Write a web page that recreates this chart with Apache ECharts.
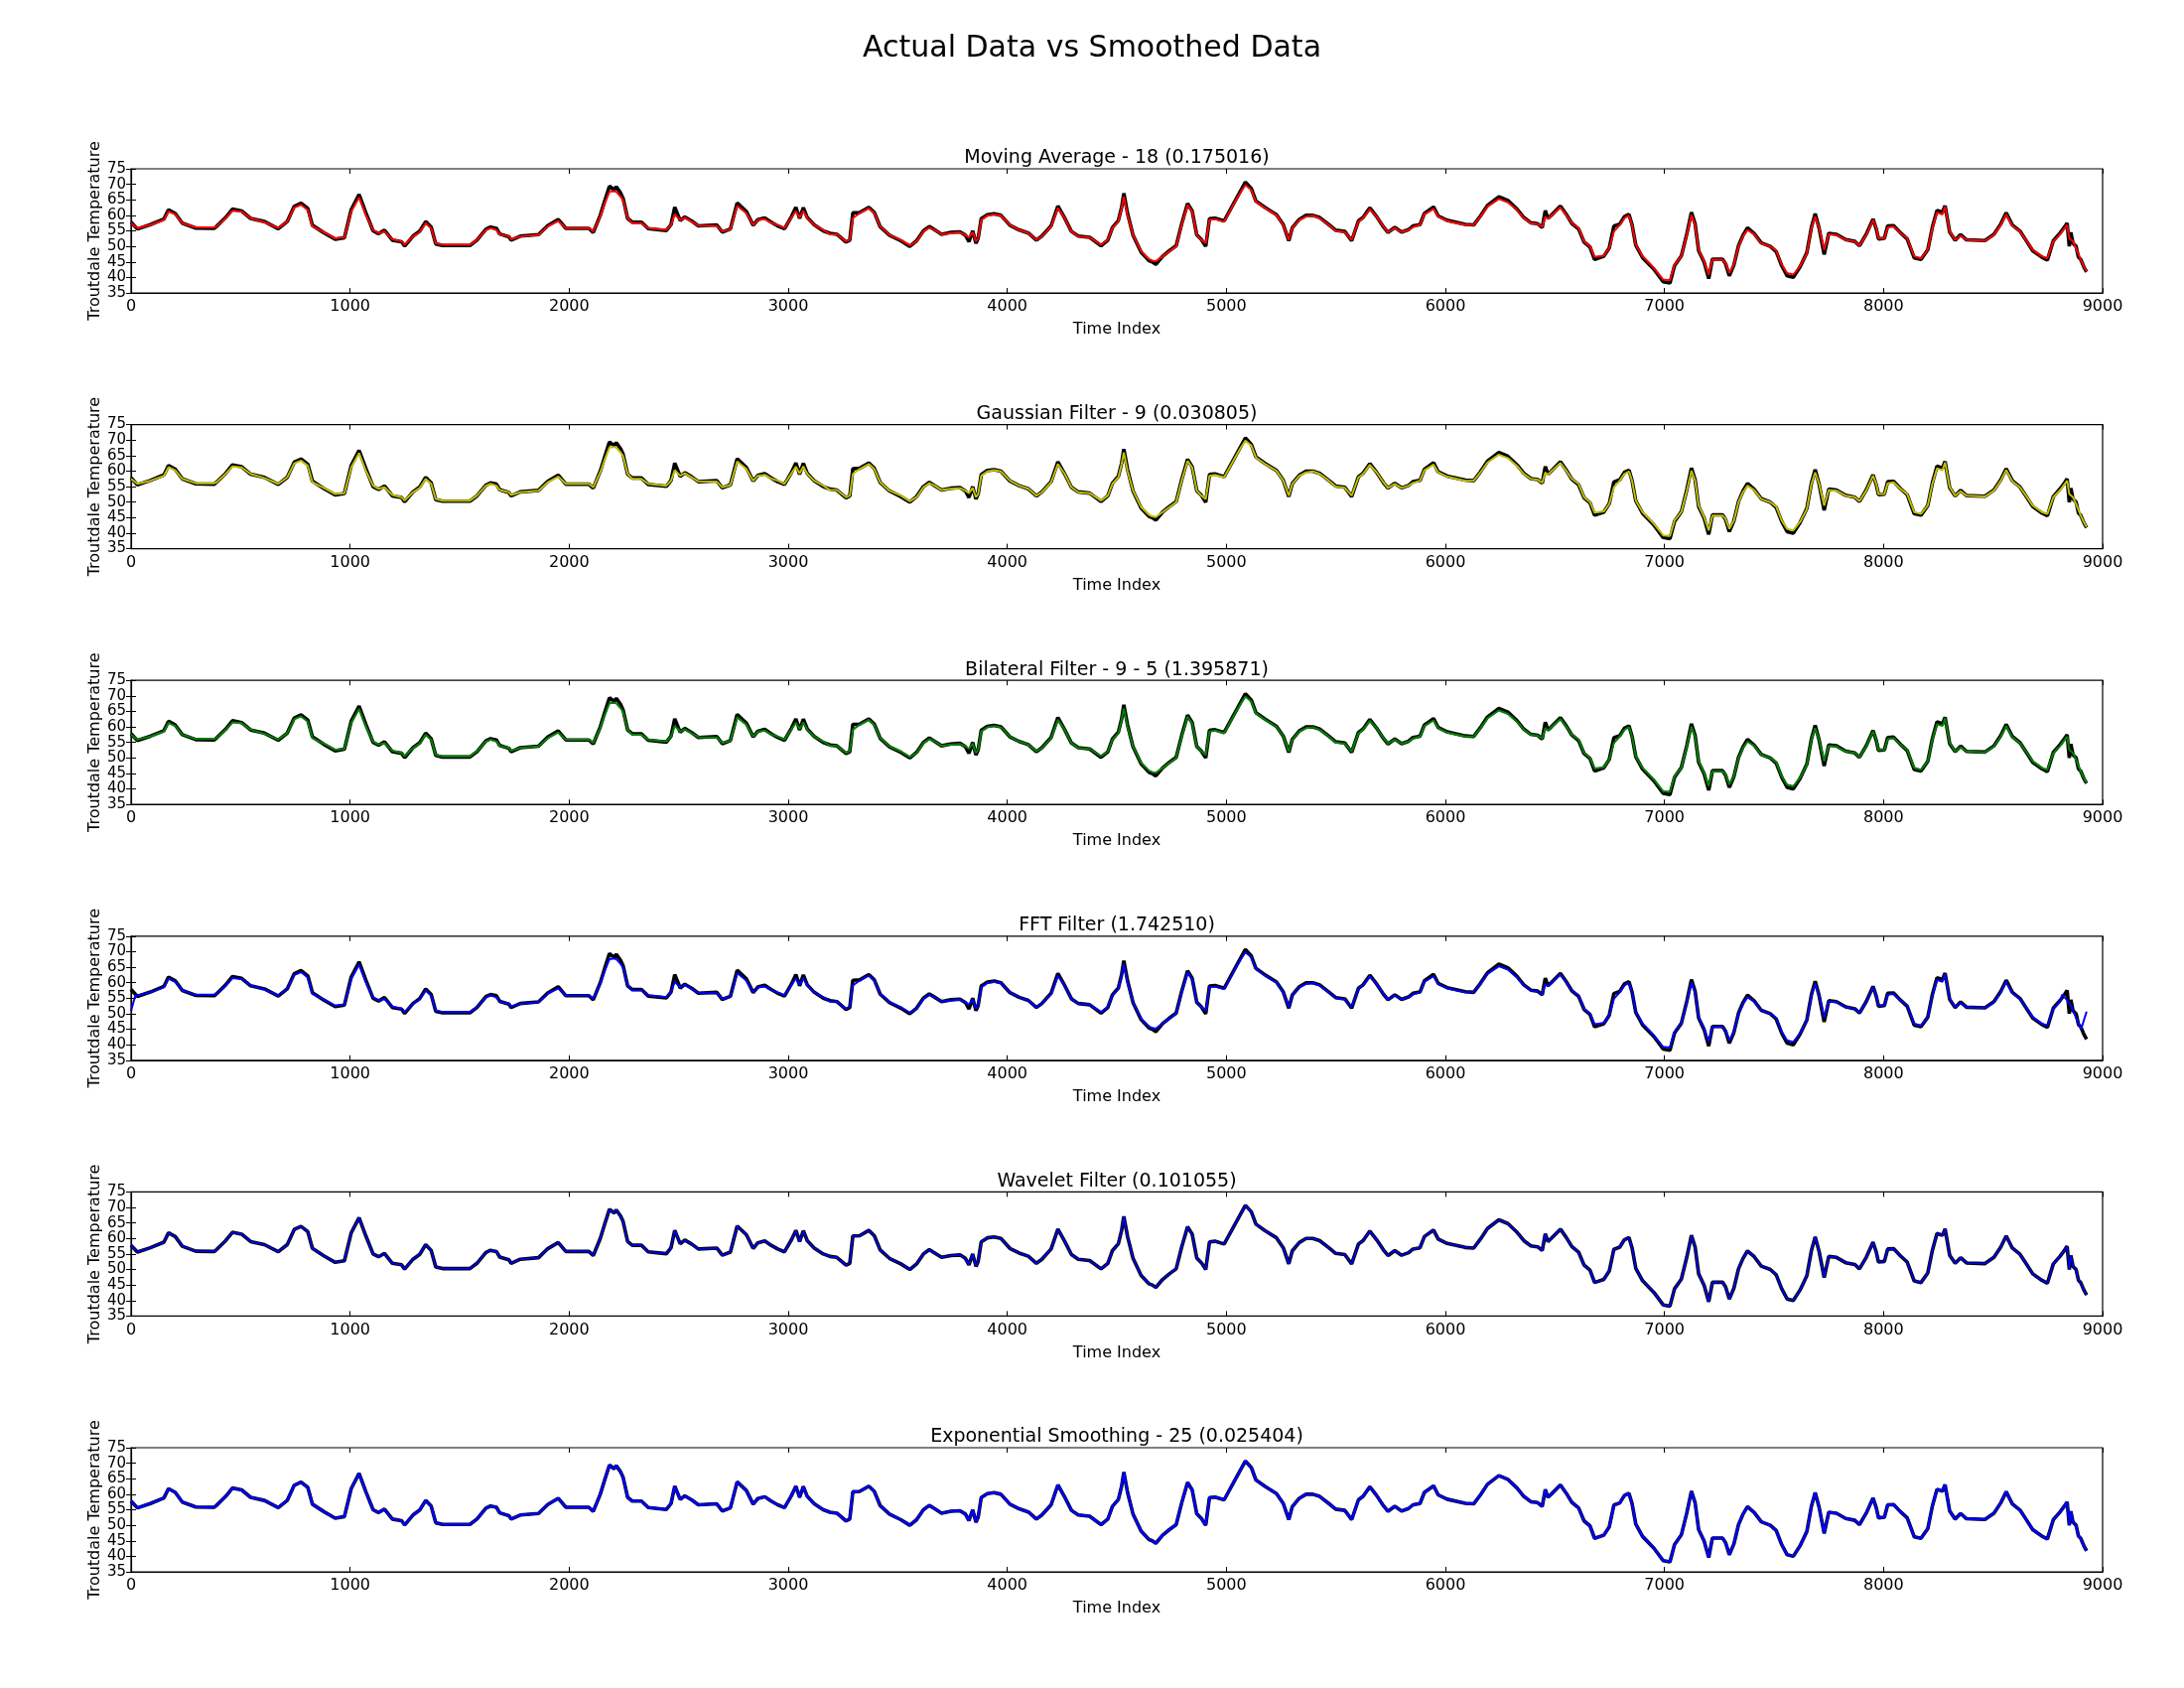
<!DOCTYPE html>
<html>
<head>
<meta charset="utf-8">
<title>Actual Data vs Smoothed Data</title>
<script src="https://cdn.jsdelivr.net/npm/echarts@6/dist/echarts.min.js"></script>
<style>
  html, body { margin: 0; padding: 0; background: #fff; }
  #chart { width: 2200px; height: 1700px; }
</style>
</head>
<body>
<div id="chart"></div>
<script>
// values
var timeIndex = [
  0, 29, 88, 150, 171, 202, 234, 296, 380, 390,
  432, 463, 505, 546, 609, 672, 713, 745, 776, 807,
  828, 880, 932, 974, 1005, 1041, 1072, 1105, 1130, 1157,
  1193, 1235, 1249, 1287, 1318, 1345, 1370, 1391, 1422, 1547,
  1579, 1620, 1641, 1668, 1683, 1725, 1735, 1777, 1860, 1902,
  1950, 1985, 2090, 2110, 2142, 2163, 2184, 2205, 2215, 2235,
  2246, 2267, 2288, 2330, 2361, 2444, 2465, 2482, 2507, 2528,
  2559, 2590, 2674, 2699, 2736, 2767, 2809, 2840, 2861, 2893,
  2922, 2952, 2983, 3015, 3035, 3052, 3069, 3087, 3119, 3160,
  3191, 3222, 3264, 3281, 3295, 3326, 3368, 3393, 3420, 3462,
  3514, 3555, 3586, 3617, 3644, 3669, 3700, 3742, 3784, 3809,
  3825, 3842, 3857, 3867, 3881, 3909, 3940, 3971, 4012, 4054,
  4096, 4133, 4158, 4200, 4231, 4262, 4293, 4324, 4376, 4428,
  4459, 4480, 4507, 4522, 4532, 4549, 4574, 4611, 4647, 4662,
  4678, 4709, 4740, 4771, 4796, 4823, 4844, 4865, 4886, 4906,
  4923, 4948, 4990, 5031, 5062, 5087, 5114, 5135, 5177, 5229,
  5260, 5285, 5301, 5333, 5364, 5395, 5426, 5468, 5499, 5541,
  5572, 5603, 5624, 5655, 5686, 5717, 5738, 5769, 5800, 5832,
  5852, 5884, 5904, 5946, 5967, 6008, 6091, 6129, 6160, 6192,
  6244, 6285, 6327, 6358, 6390, 6421, 6442, 6456, 6468, 6483,
  6525, 6552, 6577, 6608, 6633, 6660, 6681, 6723, 6748, 6769,
  6796, 6817, 6838, 6852, 6869, 6900, 6952, 6994, 7025, 7046,
  7077, 7102, 7123, 7140, 7156, 7181, 7202, 7219, 7265, 7279,
  7296, 7317, 7338, 7358, 7379, 7410, 7442, 7483, 7510, 7535,
  7560, 7588, 7619, 7650, 7671, 7688, 7706, 7729, 7750, 7785,
  7827, 7869, 7890, 7921, 7952, 7967, 7977, 8004, 8019, 8046,
  8077, 8108, 8140, 8171, 8202, 8223, 8244, 8269, 8281, 8302,
  8327, 8352, 8379, 8463, 8504, 8535, 8560, 8588, 8623, 8650,
  8681, 8723, 8748, 8775, 8806, 8827, 8838, 8848, 8855, 8865,
  8879, 8890, 8900, 8915, 8927
];

var actualTemp = [
  57.8, 55.6, 57.0, 58.8, 61.8, 60.6, 57.5, 55.9, 55.8, 56.4,
  59.3, 62.0, 61.4, 59.0, 58.0, 55.7, 58.0, 62.9, 63.9, 62.2,
  56.8, 54.4, 52.3, 52.8, 61.8, 66.7, 60.8, 55.0, 54.1, 55.2,
  52.0, 51.5, 50.1, 53.3, 54.9, 58.0, 56.2, 50.8, 50.3, 50.3,
  52.0, 55.5, 56.2, 55.8, 54.0, 53.1, 52.0, 53.3, 53.8, 56.7,
  58.7, 55.8, 55.8, 54.5, 60.0, 64.8, 69.4, 68.2, 69.2, 67.2,
  65.5, 59.0, 57.8, 57.8, 55.7, 55.1, 57.0, 62.6, 58.3, 59.5,
  58.2, 56.6, 56.9, 54.6, 55.6, 64.0, 61.2, 56.8, 58.6, 59.2,
  57.8, 56.6, 55.7, 59.6, 62.6, 59.0, 62.5, 59.3, 56.9, 55.0,
  54.2, 53.9, 51.4, 52.0, 60.8, 60.9, 62.6, 60.9, 56.3, 53.6,
  51.8, 50.0, 51.8, 55.0, 56.4, 55.3, 53.9, 54.5, 54.7, 53.6,
  51.5, 55.0, 51.0, 52.6, 58.9, 60.2, 60.5, 60.0, 56.8, 55.3,
  54.3, 52.0, 53.3, 56.6, 63.0, 59.1, 54.8, 53.3, 52.9, 50.2,
  52.0, 56.1, 58.3, 62.6, 67.1, 60.6, 53.6, 48.1, 45.4, 45.0,
  44.2, 46.8, 48.6, 50.2, 57.2, 63.8, 61.4, 53.7, 52.2, 50.0,
  58.9, 59.1, 58.2, 63.5, 67.5, 70.7, 68.6, 64.6, 62.5, 60.2,
  57.0, 51.8, 56.0, 58.7, 60.0, 60.0, 59.3, 57.0, 55.2, 54.8,
  51.8, 58.2, 59.3, 62.4, 59.6, 56.3, 54.5, 56.1, 54.6, 55.4,
  56.6, 57.0, 60.6, 62.7, 59.8, 58.4, 57.1, 56.9, 59.8, 63.2,
  66.0, 64.8, 62.0, 59.3, 57.6, 57.3, 56.1, 61.5, 59.0, 60.0,
  63.0, 60.3, 57.4, 55.6, 51.4, 49.8, 45.8, 46.8, 49.5, 56.5,
  57.2, 59.6, 60.3, 57.0, 50.4, 46.4, 42.6, 38.6, 38.2, 43.8,
  46.9, 54.0, 61.0, 57.2, 48.6, 44.9, 39.6, 45.9, 45.9, 44.4,
  40.5, 44.0, 50.2, 53.5, 56.0, 54.1, 51.1, 50.0, 48.3, 43.8,
  40.5, 40.0, 43.4, 48.0, 56.2, 60.5, 55.8, 47.4, 54.2, 53.9,
  52.2, 51.6, 50.2, 53.9, 58.8, 55.6, 52.4, 52.6, 56.6, 56.7,
  54.4, 52.4, 46.3, 45.8, 48.9, 56.2, 61.6, 61.0, 63.1, 54.6,
  52.0, 53.8, 52.1, 51.9, 53.9, 57.2, 60.8, 56.9, 54.9, 52.0,
  48.6, 46.5, 45.6, 51.8, 54.3, 56.3, 57.5, 50.0, 54.5, 51.0,
  50.0, 46.5, 45.8, 43.3, 41.8
];

var smoothTemp = [
  57.5, 55.9, 56.9, 58.5, 61.3, 60.3, 57.5, 56.1, 56.1, 56.4,
  59.1, 61.5, 61.2, 59.1, 57.8, 55.9, 58.0, 62.5, 63.4, 61.7,
  56.4, 54.6, 52.6, 52.9, 61.2, 65.8, 60.1, 55.3, 54.3, 54.8,
  52.3, 51.6, 50.5, 53.2, 54.6, 57.5, 55.9, 51.0, 50.5, 50.5,
  52.1, 55.3, 55.9, 55.3, 53.9, 53.2, 52.3, 53.2, 53.7, 56.4,
  58.2, 55.9, 55.9, 54.8, 59.6, 63.9, 67.6, 67.8, 67.6, 66.0,
  64.9, 59.1, 57.5, 57.5, 55.9, 55.3, 56.9, 60.3, 58.5, 59.3,
  58.0, 56.7, 56.6, 54.8, 55.5, 63.1, 60.7, 56.9, 58.5, 58.8,
  57.6, 56.9, 55.9, 59.3, 61.4, 59.3, 61.5, 59.1, 56.9, 55.3,
  53.9, 53.9, 51.6, 52.1, 59.1, 60.7, 62.3, 60.7, 56.4, 53.7,
  52.1, 50.3, 51.6, 54.8, 56.1, 55.3, 53.9, 54.3, 54.5, 53.7,
  52.9, 54.6, 51.6, 52.6, 58.5, 59.9, 60.3, 59.9, 56.9, 55.3,
  54.3, 52.1, 53.2, 56.4, 62.3, 59.1, 54.8, 53.2, 52.9, 50.5,
  52.1, 55.9, 58.0, 62.3, 66.0, 60.1, 53.7, 48.4, 45.9, 45.4,
  45.2, 46.8, 48.4, 50.0, 56.9, 63.3, 61.2, 53.7, 52.1, 51.0,
  58.5, 58.8, 58.0, 63.3, 67.1, 69.8, 68.2, 64.4, 62.3, 60.1,
  56.9, 52.1, 55.9, 58.5, 59.6, 59.9, 59.1, 56.9, 55.0, 54.6,
  52.1, 58.0, 59.1, 62.0, 59.6, 56.4, 54.6, 55.9, 54.6, 55.3,
  56.2, 56.9, 60.3, 62.1, 59.6, 58.2, 56.9, 56.9, 59.6, 62.8,
  65.3, 64.2, 61.7, 59.1, 57.5, 57.2, 56.3, 59.6, 58.8, 59.9,
  62.6, 60.1, 57.5, 55.9, 51.6, 50.0, 46.6, 47.0, 49.4, 54.8,
  56.9, 59.1, 59.9, 56.9, 50.5, 46.8, 43.0, 39.3, 39.1, 44.1,
  46.8, 53.7, 60.1, 56.9, 48.9, 45.2, 40.9, 45.7, 45.7, 44.6,
  41.4, 44.1, 50.0, 53.2, 55.3, 53.9, 51.0, 50.0, 48.6, 44.1,
  41.4, 40.9, 43.6, 47.8, 55.9, 59.6, 55.9, 48.9, 53.9, 53.7,
  52.1, 51.6, 50.3, 53.7, 58.5, 55.9, 52.6, 52.6, 56.1, 56.4,
  54.3, 52.6, 46.8, 46.2, 48.9, 55.9, 60.9, 60.3, 62.8, 54.8,
  52.1, 53.5, 52.1, 51.8, 53.7, 56.9, 60.3, 56.7, 54.8, 52.1,
  48.9, 46.8, 46.2, 51.6, 53.9, 55.9, 56.9, 52.6, 53.0, 51.6,
  49.4, 47.5, 45.7, 43.5, 42.0
];

// the FFT curve leaves the data at both ends
var fftHead = [[0, 50.9], [18, 55.5]];
var fftTail = [[8816, 56.2], [8850, 53.4], [8878, 48.8], [8902, 45.0], [8927, 50.7]];

var panelTitles = [
  'Moving Average - 18 (0.175016)',
  'Gaussian Filter - 9 (0.030805)',
  'Bilateral Filter - 9 - 5 (1.395871)',
  'FFT Filter (1.742510)',
  'Wavelet Filter (0.101055)',
  'Exponential Smoothing - 25 (0.025404)'
];
var panelColors = ['#ff0000', '#bfbf00', '#008000', '#0000ff', '#0000ff', '#0000ff'];
var xTicks = { min: 0, max: 9000, step: 1000 };
var yTicks = { min: 35, max: 75, step: 5 };

function pairs(ys) {
  return timeIndex.map(function (t, i) { return [t, ys[i]]; });
}
function fftPairs() {
  var mid = pairs(smoothTemp).filter(function (p) { return p[0] > 18 && p[0] < 8816; });
  return fftHead.map(function (p) { return p.slice(); })
    .concat(mid)
    .concat(fftTail.map(function (p) { return p.slice(); }));
}
function panelPoints(i) {
  if (i === 3) return fftPairs();
  if (i >= 4) return pairs(actualTemp);
  return pairs(smoothTemp);
}
var panelWidths = [2, 2, 2, 2, 1.6, 2.4];

var FONT = 'DejaVu Sans';
var LEFT = 132, WIDTH = 1986, TOP0 = 170, STEP = 257.6, HEIGHT = 125;

function axisLine() {
  return { show: true, onZero: false, lineStyle: { color: '#000', width: 1.2 } };
}
function axisTick(inside) {
  return { show: true, inside: inside, length: 5, lineStyle: { color: '#000', width: 1 } };
}
function plainNum(v) { return String(v); }
function txt(x, y, s, size, rot) {
  return {
    type: 'text', x: x, y: y, rotation: rot || 0, silent: true,
    style: { text: s, fill: '#000', font: size + 'px "' + FONT + '"', align: 'center', verticalAlign: 'middle' }
  };
}

// level 0 adds an overlay grid per panel for the top/right ticks; level 1 keeps only the border
function buildOption(level) {
  var grids = [], xAxes = [], yAxes = [], series = [], texts = [];
  var ghost = level < 1;

  texts.push(txt(1100, 49, 'Actual Data vs Smoothed Data', 30));

  for (var i = 0; i < 6; i++) {
    var top = TOP0 + i * STEP;
    grids.push({
      left: LEFT, top: top, width: WIDTH, height: HEIGHT,
      show: true, borderColor: '#000', borderWidth: 1.2, backgroundColor: 'transparent'
    });
    texts.push(txt(LEFT + WIDTH / 2, top - 10.5, panelTitles[i], 19));
    xAxes.push({
      type: 'value', gridIndex: i, position: 'bottom',
      min: xTicks.min, max: xTicks.max, interval: xTicks.step,
      name: 'Time Index', nameLocation: 'middle', nameGap: 29,
      nameTextStyle: { fontFamily: FONT, fontSize: 16, color: '#000' },
      axisLine: axisLine(), axisTick: axisTick(true), splitLine: { show: false },
      axisLabel: { fontFamily: FONT, fontSize: 16, color: '#000', margin: 6,
        showMinLabel: true, showMaxLabel: true, formatter: plainNum }
    });
    yAxes.push({
      type: 'value', gridIndex: i, position: 'left',
      min: yTicks.min, max: yTicks.max, interval: yTicks.step,
      name: 'Troutdale Temperature', nameLocation: 'middle', nameGap: 28,
      nameMoveOverlap: false,
      nameTextStyle: { fontFamily: FONT, fontSize: 16, color: '#000' },
      axisLine: axisLine(), axisTick: axisTick(true), splitLine: { show: false },
      axisLabel: { fontFamily: FONT, fontSize: 15, lineHeight: 10, color: '#000', margin: 5,
        formatter: plainNum }
    });
    series.push({
      name: 'Actual', type: 'line', xAxisIndex: i, yAxisIndex: i,
      data: pairs(actualTemp), showSymbol: false, z: 2,
      lineStyle: { color: '#000', width: 3.6 }
    });
    series.push({
      name: panelTitles[i], type: 'line', xAxisIndex: i, yAxisIndex: i,
      data: panelPoints(i), showSymbol: false, z: 3,
      lineStyle: { color: panelColors[i], width: panelWidths[i] }
    });
  }

  if (ghost) {
    for (var j = 0; j < 6; j++) {
      var gtop = TOP0 + j * STEP;
      var gi = grids.length;
      grids.push({ left: LEFT, top: gtop, width: WIDTH, height: HEIGHT });
      xAxes.push({
        type: 'value', gridIndex: gi, position: 'top',
        min: xTicks.min, max: xTicks.max, interval: xTicks.step,
        axisLine: { show: false }, axisTick: axisTick(true), splitLine: { show: false },
        axisLabel: { show: false }
      });
      yAxes.push({
        type: 'value', gridIndex: gi, position: 'right',
        min: yTicks.min, max: yTicks.max, interval: yTicks.step,
        axisLine: { show: false }, axisTick: axisTick(true), splitLine: { show: false },
        axisLabel: { show: false }
      });
    }
  }

  return {
    animation: false,
    backgroundColor: '#fff',
    graphic: { elements: texts },
    grid: grids,
    xAxis: xAxes,
    yAxis: yAxes,
    series: series
  };
}

var dom = document.getElementById('chart');
for (var level = 0; level < 2; level++) {
  var chart = echarts.init(dom);
  try {
    chart.setOption(buildOption(level));
    break;
  } catch (e) {
    console.log('level ' + level + ' failed: ' + e.message);
    chart.dispose();
  }
}
</script>
</body>
</html>
